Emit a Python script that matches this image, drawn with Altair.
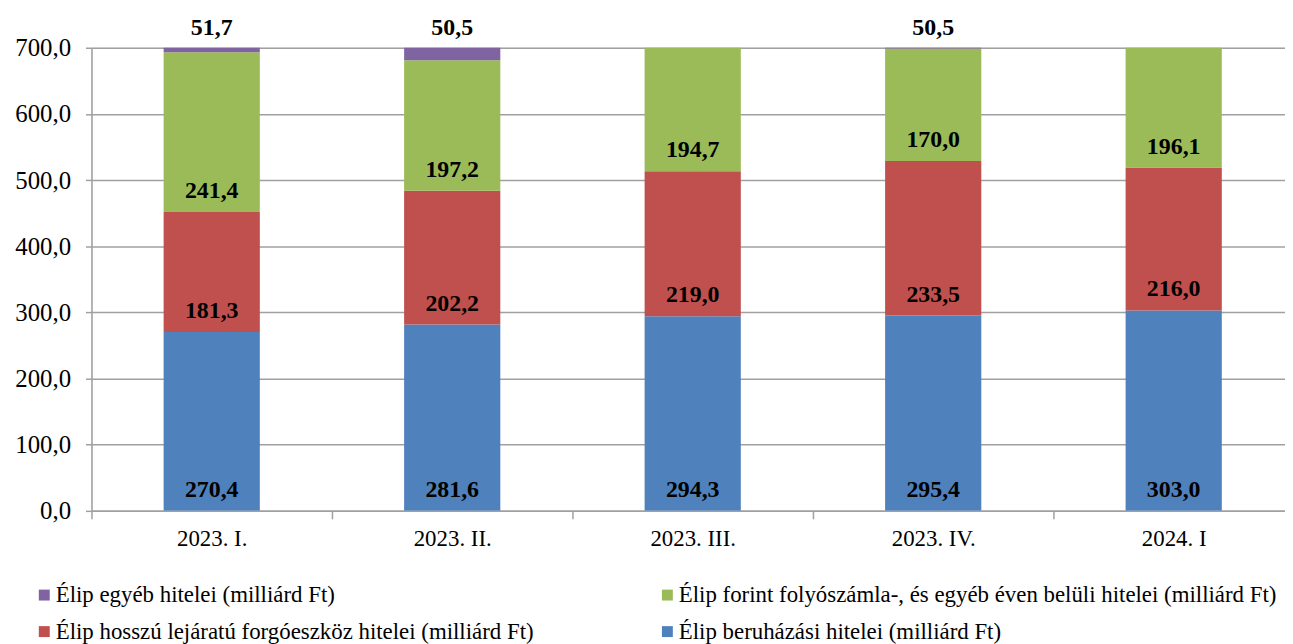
import altair as alt
import pandas as pd

categories = ["2023. I.", "2023. II.", "2023. III.", "2023. IV.", "2024. I"]
series = [
    "Élip beruházási hitelei (milliárd Ft)",
    "Élip hosszú lejáratú forgóeszköz hitelei (milliárd Ft)",
    "Élip forint folyószámla-, és egyéb éven belüli hitelei (milliárd Ft)",
    "Élip egyéb hitelei (milliárd Ft)",
]
beruhazasi = [270.4, 281.6, 294.3, 295.4, 303.0]
hosszu = [181.3, 202.2, 219.0, 233.5, 216.0]
forint = [241.4, 197.2, 194.7, 170.0, 196.1]
egyeb = [51.7, 50.5, None, 50.5, None]
colors = ["#4F81BD", "#C0504D", "#9BBB59", "#8064A2"]
# legend entries fill column by column: (egyeb, hosszu) | (forint, beruhazasi)
legend_order = [series[3], series[1], series[2], series[0]]
legend_colors = [colors[3], colors[1], colors[2], colors[0]]

rows = []
for i, cat in enumerate(categories):
    base = 0.0
    for k, vals in enumerate([beruhazasi, hosszu, forint, egyeb]):
        v = vals[i]
        if v is None:
            continue
        rows.append({
            "cat": cat, "series": series[k], "k": k, "value": v,
            "start": base, "end": base + v,
            "label": f"{v:.1f}".replace(".", ","),
        })
        base += v
df = pd.DataFrame(rows)

FONT = "Liberation Serif"

x = alt.X("cat:N", sort=categories, title=None,
          scale=alt.Scale(paddingInner=0, paddingOuter=0),
          axis=alt.Axis(labelAngle=0, labelFont=FONT, labelFontSize=23,
                        labelColor="black", labelPadding=9, tickBand="extent",
                        tickSize=8, tickColor="#a0a0a0", tickWidth=1.5,
                        domainColor="#a0a0a0", domainWidth=1.5))
yscale = alt.Scale(domain=[0, 700], nice=False)

bars = alt.Chart(df).mark_bar(clip=True, width=alt.RelativeBandSize(0.4)).encode(
    x=x,
    y=alt.Y("start:Q", scale=yscale, title=None,
            axis=alt.Axis(values=[0, 100, 200, 300, 400, 500, 600, 700],
                          labelExpr="replace(format(datum.value, '.1f'), '.', ',')",
                          labelFont=FONT, labelFontSize=25, labelColor="black",
                          labelPadding=15, tickSize=6, tickColor="#a0a0a0", tickWidth=1.5,
                          domainColor="#a0a0a0", domainWidth=1.5,
                          grid=True, gridColor="#a0a0a0", gridWidth=1.5)),
    y2="end:Q",
    color=alt.Color("series:N", scale=alt.Scale(domain=legend_order, range=legend_colors),
                    legend=alt.Legend(title=None, orient="none", legendX=-59, legendY=539,
                                      columns=2, columnPadding=122, rowPadding=13,
                                      symbolType="square", symbolSize=121, symbolStrokeWidth=0,
                                      labelFont=FONT, labelFontSize=23,
                                      labelColor="black", labelLimit=900, symbolOffset=0,
                                      labelOffset=0)),
)

inner = alt.Chart(df[df.k < 3]).mark_text(
    font=FONT, fontSize=24, fontWeight="bold", color="black",
    baseline="middle", dy=-21
).encode(x=alt.X("cat:N", sort=categories), y=alt.Y("start:Q", scale=yscale), text="label:N")

top = alt.Chart(df[df.k == 3]).mark_text(
    font=FONT, fontSize=24, fontWeight="bold", color="black",
    baseline="middle"
).encode(x=alt.X("cat:N", sort=categories), y=alt.value(-20), text="label:N")

chart = alt.layer(bars, inner, top).properties(
    width=1210, height=466,
    autosize=alt.AutoSizeParams(type="none"),
    padding={"left": 84, "top": 38, "right": -9, "bottom": 136},
).configure_view(strokeWidth=0).configure(background="white")

chart.save("out.html", embed_options={"renderer": "svg", "actions": False})
